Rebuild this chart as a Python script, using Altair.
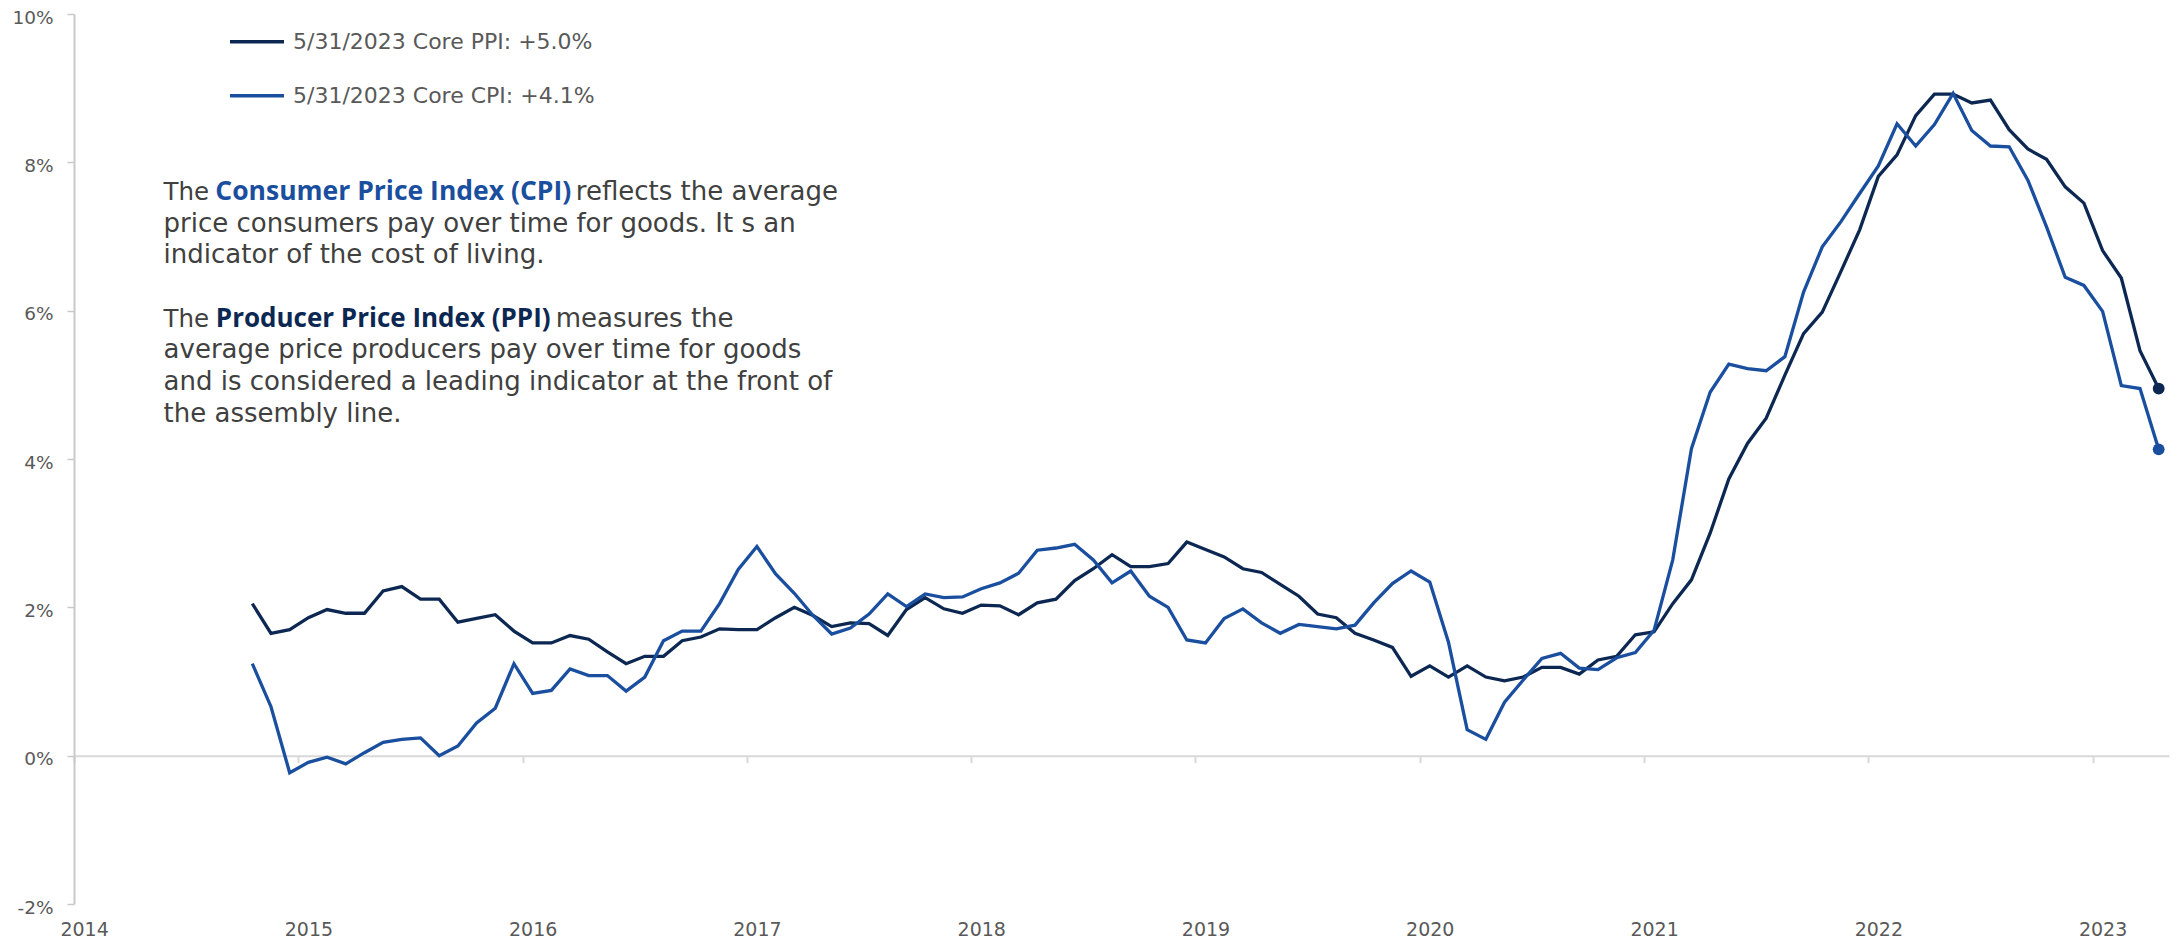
import altair as alt
import pandas as pd

# ---------------- data ----------------
months = pd.date_range("2014-10-01", periods=103, freq="MS")

ppi = [2.05, 1.65, 1.70, 1.86, 1.97, 1.92, 1.92, 2.22, 2.28, 2.11,
       2.11, 1.80, 1.85, 1.90, 1.68, 1.52, 1.52, 1.62, 1.57, 1.40,
       1.24, 1.34, 1.34, 1.55, 1.60, 1.71, 1.70, 1.70, 1.86, 2.00,
       1.89, 1.74, 1.79, 1.78, 1.62, 1.97, 2.13, 1.98, 1.92, 2.03,
       2.02, 1.90, 2.06, 2.11, 2.36, 2.52, 2.71, 2.55, 2.55, 2.59,
       2.88, 2.78, 2.68, 2.52, 2.47, 2.31, 2.15, 1.91, 1.86, 1.65,
       1.56, 1.46, 1.07, 1.21, 1.06, 1.21, 1.06, 1.01, 1.06, 1.19,
       1.19, 1.10, 1.29, 1.34, 1.63, 1.67, 2.05, 2.37, 3.00, 3.73,
       4.21, 4.55, 5.13, 5.69, 5.98, 6.53, 7.09, 7.81, 8.10, 8.63,
       8.92, 8.92, 8.80, 8.84, 8.44, 8.18, 8.04, 7.67, 7.45, 6.81,
       6.44, 5.46, 4.95]

cpi = [1.24, 0.66, -0.23, -0.09, -0.02, -0.11, 0.04, 0.18, 0.22, 0.24,
       0.00, 0.13, 0.44, 0.64, 1.24, 0.84, 0.88, 1.17, 1.08, 1.08,
       0.87, 1.06, 1.55, 1.68, 1.68, 2.05, 2.51, 2.82, 2.45, 2.19,
       1.89, 1.64, 1.72, 1.91, 2.18, 2.01, 2.18, 2.13, 2.14, 2.25,
       2.33, 2.46, 2.77, 2.80, 2.85, 2.64, 2.33, 2.49, 2.15, 2.00,
       1.56, 1.52, 1.85, 1.98, 1.79, 1.65, 1.77, 1.74, 1.71, 1.76,
       2.06, 2.32, 2.49, 2.34, 1.53, 0.35, 0.22, 0.72, 1.02, 1.31,
       1.38, 1.18, 1.16, 1.32, 1.39, 1.69, 2.64, 4.14, 4.90, 5.28,
       5.22, 5.19, 5.38, 6.25, 6.86, 7.20, 7.58, 7.95, 8.52, 8.22,
       8.51, 8.93, 8.43, 8.22, 8.21, 7.76, 7.13, 6.45, 6.34, 5.99,
       4.99, 4.95, 4.13]

series = ["PPI", "CPI"]
legend_labels = ["5/31/2023 Core PPI:  +5.0%", "5/31/2023 Core CPI:  +4.1%"]
colors = ["#0C2852", "#1A4E9E"]
year_ticks = list(range(2014, 2024))
y_ticks = [-2, 0, 2, 4, 6, 8, 10]

line1 = ["The", "Consumer Price Index (CPI)", "reflects the average"]
line2 = "price consumers pay over time for goods. It s an"
line3 = "indicator of the cost of living."
line4 = ["The", "Producer Price Index (PPI)", "measures the"]
line5 = "average price producers pay over time for goods"
line6 = "and is considered a leading indicator at the front of"
line7 = "the assembly line."

# ---------------- build ----------------
xpos = [m.year + (m.month - 1) / 12 for m in months]
df = pd.DataFrame({
    "x": xpos * 2,
    "value": ppi + cpi,
    "series": ["PPI"] * len(ppi) + ["CPI"] * len(cpi),
})
last = df.groupby("series").tail(1)

W, H = 2095, 890
AXIS_FONT = "DejaVu Sans"
TEXT_FONT = "DejaVu Sans"
BOLD_FONT = "Open Sans"
GRAY = "#595959"
TXT = "#404040"

x_enc = alt.X(
    "x:Q",
    scale=alt.Scale(domain=[2013.955, 2023.296], nice=False, zero=False),
    axis=alt.Axis(
        values=year_ticks, format="d", title=None, grid=False,
        offset=-(H * 2 / 12), domainColor="#D9D9D9", domainWidth=2,
        tickColor="#D9D9D9", tickWidth=2, tickSize=7,
        tickOffset=-10, labelOffset=10, labelPadding=173,
        labelBaseline="alphabetic",
        labelFont=AXIS_FONT, labelFontSize=19, labelColor=GRAY,
        labelFlush=False,
    ),
)
y_enc = alt.Y(
    "value:Q",
    scale=alt.Scale(domain=[-2, 10], nice=False, zero=False),
    axis=alt.Axis(
        values=y_ticks, labelExpr="datum.value + '%'", title=None, grid=False,
        domainColor="#C9C9C9", domainWidth=2, tickColor="#C9C9C9", tickWidth=1.5,
        tickSize=7, labelPadding=14, labelFont=AXIS_FONT, labelFontSize=18.5,
        labelColor=GRAY, labelOffset=3, labelFlush=False,
    ),
)
color_enc = alt.Color("series:N", scale=alt.Scale(domain=series, range=colors), legend=None)

layers = []
for s in series:
    layers.append(
        alt.Chart(df[df.series == s]).mark_line(strokeWidth=3.3, strokeJoin="miter")
        .encode(x=x_enc, y=y_enc, color=color_enc)
    )
layers.append(
    alt.Chart(last).mark_circle(size=140, opacity=1).encode(x=x_enc, y=y_enc, color=color_enc)
)

OX, OY = 74, 14  # plot origin on the page


def txt(s, px, py, color=TXT, bold=False, size=26, font=TEXT_FONT):
    return alt.Chart(pd.DataFrame({"t": [s]})).mark_text(
        align="left", baseline="alphabetic", font=font, fontSize=size,
        fontWeight="bold" if bold else "normal", color=color,
    ).encode(text="t:N", x=alt.value(px - OX), y=alt.value(py - OY))


# legend
for i, (lab, col) in enumerate(zip(legend_labels, colors)):
    yy = 41.7 + 54 * i
    layers.append(
        alt.Chart(pd.DataFrame({"t": [lab]})).mark_rule(strokeWidth=3.5, color=col).encode(
            x=alt.value(230 - OX), x2=alt.value(284 - OX), y=alt.value(yy - OY)
        )
    )
    layers.append(txt(lab, 293, yy + 7.5, color=GRAY, size=22, font=AXIS_FONT))

# annotation
layers += [
    txt(line1[0], 163.6, 200, size=24.5),
    txt(line1[1], 215.3, 200, color=colors[1], bold=True, size=26.5, font=BOLD_FONT),
    txt(line1[2], 575.8, 200),
    txt(line2, 163.6, 231.7),
    txt(line3, 163.6, 263.3),
    txt(line4[0], 163.6, 326.7, size=24.5),
    txt(line4[1], 215.8, 326.7, color=colors[0], bold=True, size=26, font=BOLD_FONT),
    txt(line4[2], 555.7, 326.7),
    txt(line5, 163.6, 358.3),
    txt(line6, 163.6, 390),
    txt(line7, 163.6, 421.7),
]

chart = alt.layer(*layers).properties(
    width=W, height=H,
    autosize=alt.AutoSizeParams(type="none"),
    padding={"left": 66, "top": 6, "right": 1, "bottom": 37},
    background="white",
).configure_view(stroke=None)

chart.save("out.html", embed_options={"renderer": "svg", "actions": False})
